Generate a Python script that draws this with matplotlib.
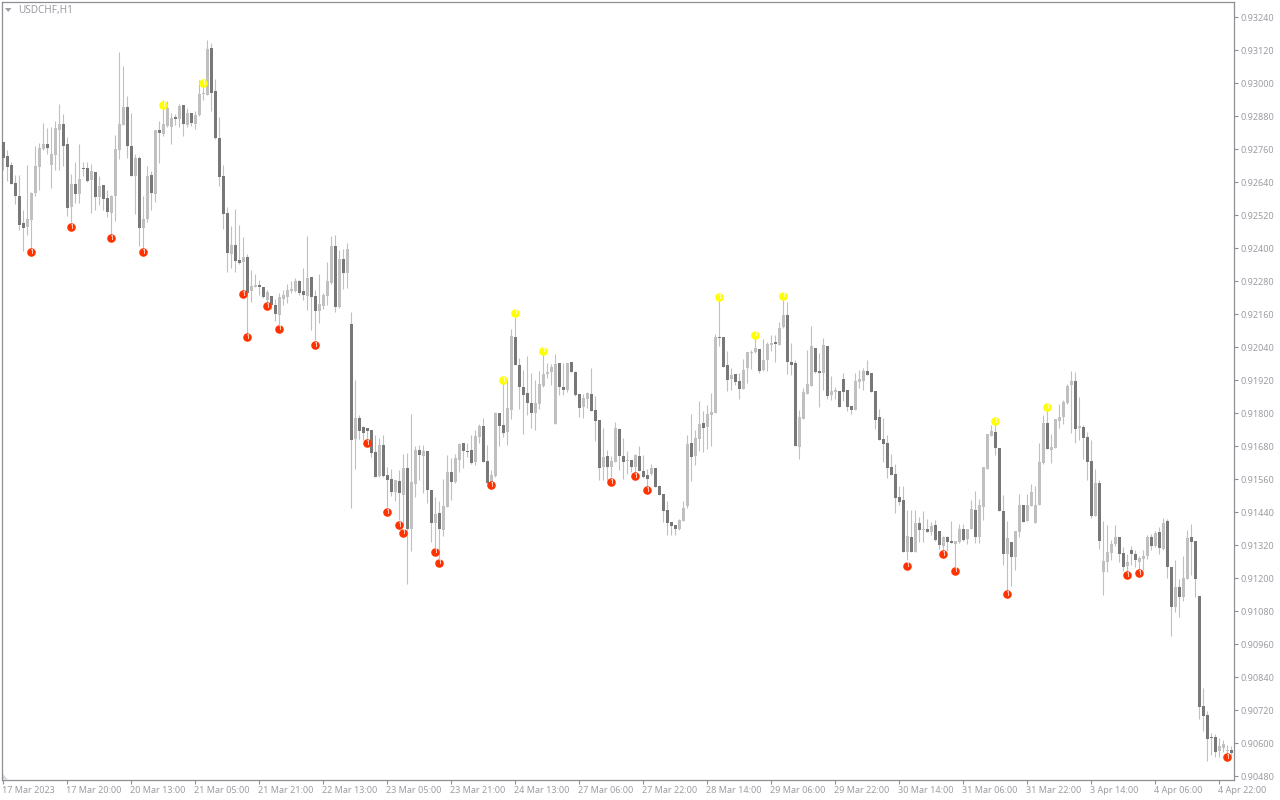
import numpy as np
import matplotlib
matplotlib.use('Agg')
import matplotlib.pyplot as plt
from matplotlib.patches import Polygon
from matplotlib.transforms import ScaledTranslation

# USDCHF H1, values, in 1/100000 of a franc
opens = [92786, 92735, 92702, 92637, 92589, 92491, 92477, 92502, 92600, 92695,
         92760, 92778, 92702, 92738, 92829, 92851, 92778, 92549, 92633, 92597,
         92691, 92691, 92648, 92677, 92586, 92629, 92582, 92528, 92589, 92757,
         92848, 92913, 92771, 92662, 92728, 92473, 92506, 92666, 92597, 92829,
         92815, 92844, 92840, 92877, 92869, 92920, 92848, 92891, 92851, 92884,
         92961, 92957, 93128, 92971, 92800, 92662, 92528, 92379, 92411, 92357,
         92349, 92368, 92244, 92259, 92266, 92259, 92211, 92226, 92193, 92157,
         92215, 92222, 92244, 92244, 92280, 92244, 92226, 92295, 92226, 92171,
         92189, 92226, 92273, 92408, 92186, 92360, 92309, 92124, 91706, 91782,
         91749, 91746, 91738, 91658, 91571, 91684, 91575, 91560, 91513, 91553,
         91502, 91600, 91378, 91542, 91666, 91644, 91662, 91520, 91400, 91437,
         91375, 91458, 91586, 91549, 91629, 91691, 91662, 91666, 91622, 91713,
         91753, 91626, 91546, 91571, 91800, 91756, 91731, 91811, 92076, 91975,
         91895, 91873, 91836, 91800, 91833, 91898, 91942, 91949, 91760, 91982,
         91895, 91884, 91986, 91949, 91869, 91822, 91851, 91869, 91811, 91775,
         91604, 91644, 91604, 91622, 91742, 91644, 91626, 91629, 91604, 91644,
         91589, 91575, 91578, 91600, 91535, 91506, 91447, 91404, 91393, 91378,
         91407, 91462, 91691, 91644, 91706, 91764, 91750, 91793, 91801, 92077,
         92077, 91975, 91924, 91942, 91917, 91888, 91964, 92019, 92022, 92033,
         91957, 91993, 92048, 92059, 92048, 92113, 92157, 91986, 91982, 91677,
         91779, 91870, 91899, 92037, 91953, 91946, 92044, 91866, 91877, 91881,
         91924, 91884, 91826, 91811, 91913, 91917, 91953, 91946, 91881, 91786,
         91706, 91691, 91604, 91578, 91495, 91484, 91295, 91349, 91295, 91400,
         91375, 91378, 91368, 91393, 91371, 91317, 91349, 91335, 91324, 91331,
         91378, 91342, 91378, 91448, 91349, 91459, 91597, 91717, 91731, 91673,
         91444, 91288, 91331, 91277, 91368, 91466, 91408, 91462, 91400, 91466,
         91619, 91764, 91666, 91673, 91771, 91786, 91837, 91902, 91917, 91746,
         91749, 91713, 91626, 91426, 91546, 91222, 91259, 91291, 91324, 91349,
         91291, 91244, 91302, 91288, 91259, 91269, 91280, 91349, 91317, 91368,
         91306, 91408, 91240, 91095, 91168, 91131, 91197, 91349, 91335, 91135,
         90735, 90702, 90622, 90622, 90571, 90582, 90571, 90575]

highs = [92787, 92757, 92714, 92666, 92666, 92539, 92702, 92604, 92771, 92781,
         92855, 92837, 92839, 92862, 92924, 92888, 92803, 92669, 92713, 92778,
         92713, 92713, 92706, 92677, 92662, 92629, 92611, 92593, 92811, 93113,
         93062, 92953, 92891, 92742, 92735, 92589, 92698, 92680, 92829, 92862,
         92938, 92935, 92891, 92888, 92924, 92920, 92909, 92891, 92898, 93011,
         92993, 93157, 93146, 93015, 92877, 92702, 92549, 92480, 92542, 92484,
         92440, 92379, 92320, 92306, 92284, 92259, 92248, 92226, 92215, 92237,
         92248, 92269, 92280, 92291, 92284, 92328, 92444, 92295, 92248, 92306,
         92237, 92349, 92444, 92448, 92393, 92397, 92419, 92167, 91920, 91793,
         91753, 91746, 91738, 91720, 91709, 91720, 91604, 91596, 91556, 91593,
         91651, 91655, 91796, 91680, 91684, 91684, 91662, 91520, 91495, 91480,
         91560, 91647, 91637, 91651, 91691, 91691, 91690, 91720, 91738, 91760,
         91782, 91684, 91593, 91804, 91800, 91920, 91924, 92106, 92150, 92000,
         91956, 92007, 91946, 91920, 91953, 92011, 91982, 91978, 92015, 91982,
         91981, 91982, 91986, 91953, 91869, 91869, 91876, 91964, 91862, 91775,
         91746, 91666, 91644, 91767, 91746, 91709, 91662, 91629, 91651, 91680,
         91647, 91596, 91615, 91600, 91538, 91506, 91480, 91404, 91393, 91415,
         91480, 91720, 91796, 91739, 91844, 91808, 91830, 91873, 92088, 92218,
         92077, 92026, 91964, 91942, 91946, 91997, 92022, 92030, 92072, 92033,
         92070, 92059, 92084, 92084, 92131, 92211, 92204, 92055, 91993, 91811,
         91891, 92030, 92117, 92037, 92019, 92073, 92044, 91935, 91895, 91881,
         91946, 91884, 91826, 91946, 91957, 91964, 91993, 91946, 91881, 91815,
         91782, 91720, 91651, 91615, 91535, 91535, 91448, 91448, 91448, 91421,
         91444, 91414, 91404, 91411, 91371, 91353, 91353, 91408, 91335, 91397,
         91397, 91378, 91484, 91517, 91488, 91604, 91724, 91757, 91757, 91673,
         91502, 91408, 91331, 91371, 91506, 91466, 91506, 91542, 91535, 91691,
         91793, 91811, 91724, 91778, 91833, 91848, 91906, 91953, 91949, 91858,
         91757, 91731, 91702, 91597, 91557, 91408, 91393, 91339, 91393, 91349,
         91313, 91288, 91317, 91302, 91280, 91302, 91357, 91360, 91371, 91386,
         91419, 91415, 91240, 91266, 91197, 91280, 91375, 91397, 91335, 91135,
         90800, 90717, 90637, 90633, 90618, 90611, 90593, 90589]

lows = [92684, 92644, 92633, 92560, 92466, 92391, 92448, 92399, 92589, 92611,
        92757, 92742, 92619, 92684, 92684, 92698, 92517, 92496, 92565, 92565,
        92662, 92640, 92529, 92539, 92557, 92539, 92514, 92448, 92499, 92724,
        92848, 92728, 92662, 92524, 92408, 92393, 92495, 92539, 92568, 92709,
        92808, 92840, 92778, 92848, 92841, 92808, 92840, 92844, 92833, 92880,
        92938, 92957, 92898, 92798, 92626, 92469, 92313, 92328, 92313, 92342,
        92236, 92084, 92204, 92257, 92229, 92219, 92189, 92177, 92135, 92114,
        92193, 92200, 92236, 92240, 92229, 92211, 92175, 92102, 92066, 92128,
        92179, 92193, 92269, 92168, 92182, 92251, 92255, 91455, 91596, 91706,
        91702, 91691, 91640, 91567, 91567, 91567, 91460, 91498, 91480, 91411,
        91393, 91178, 91298, 91496, 91556, 91509, 91473, 91331, 91308, 91266,
        91353, 91458, 91484, 91547, 91586, 91600, 91639, 91615, 91611, 91690,
        91622, 91542, 91542, 91569, 91680, 91713, 91684, 91778, 91975, 91815,
        91724, 91793, 91746, 91738, 91815, 91895, 91927, 91902, 91760, 91866,
        91866, 91876, 91949, 91862, 91786, 91782, 91818, 91807, 91698, 91556,
        91556, 91556, 91569, 91622, 91593, 91560, 91578, 91586, 91581, 91589,
        91565, 91532, 91575, 91531, 91502, 91404, 91357, 91357, 91357, 91375,
        91407, 91455, 91553, 91611, 91662, 91659, 91670, 91681, 91801, 92044,
        91968, 91881, 91884, 91902, 91851, 91888, 91910, 91961, 92019, 91946,
        91953, 91953, 92026, 91986, 92048, 92110, 91942, 91939, 91681, 91633,
        91779, 91870, 91899, 91946, 91822, 91884, 91851, 91848, 91851, 91822,
        91844, 91808, 91797, 91811, 91891, 91884, 91939, 91877, 91742, 91702,
        91623, 91564, 91575, 91437, 91466, 91295, 91266, 91295, 91295, 91331,
        91331, 91368, 91357, 91335, 91306, 91299, 91299, 91328, 91235, 91328,
        91335, 91324, 91378, 91328, 91328, 91411, 91597, 91717, 91648, 91444,
        91248, 91151, 91171, 91229, 91349, 91404, 91408, 91462, 91400, 91466,
        91615, 91669, 91619, 91673, 91746, 91760, 91833, 91729, 91691, 91702,
        91633, 91557, 91419, 91426, 91306, 91139, 91222, 91266, 91317, 91259,
        91226, 91223, 91248, 91240, 91232, 91229, 91269, 91302, 91313, 91288,
        91302, 91200, 90989, 91077, 91059, 91117, 91197, 91211, 91131, 90688,
        90644, 90535, 90557, 90549, 90549, 90568, 90539, 90557]

closes = [92728, 92695, 92633, 92589, 92484, 92473, 92506, 92600, 92698, 92764,
          92778, 92764, 92742, 92837, 92851, 92771, 92546, 92633, 92597, 92651,
          92689, 92644, 92680, 92586, 92626, 92578, 92531, 92589, 92760, 92851,
          92913, 92771, 92662, 92728, 92473, 92506, 92662, 92600, 92829, 92818,
          92851, 92909, 92873, 92869, 92917, 92851, 92891, 92855, 92884, 92960,
          92964, 93124, 92964, 92800, 92658, 92524, 92382, 92411, 92353, 92346,
          92368, 92237, 92262, 92266, 92259, 92222, 92240, 92193, 92160, 92222,
          92229, 92248, 92251, 92280, 92237, 92229, 92291, 92222, 92171, 92197,
          92229, 92280, 92408, 92186, 92360, 92309, 92397, 91702, 91782, 91735,
          91727, 91735, 91655, 91567, 91684, 91571, 91556, 91513, 91556, 91509,
          91600, 91378, 91549, 91666, 91647, 91662, 91520, 91400, 91433, 91378,
          91462, 91586, 91549, 91637, 91687, 91662, 91658, 91618, 91717, 91753,
          91622, 91546, 91575, 91800, 91753, 91727, 91818, 92080, 91975, 91895,
          91866, 91836, 91800, 91836, 91906, 91942, 91949, 91967, 91978, 91895,
          91884, 91982, 91949, 91866, 91818, 91855, 91873, 91807, 91771, 91600,
          91640, 91604, 91626, 91746, 91644, 91622, 91629, 91604, 91647, 91589,
          91567, 91560, 91600, 91531, 91502, 91444, 91400, 91389, 91378, 91411,
          91455, 91687, 91640, 91710, 91761, 91746, 91797, 91804, 92077, 92074,
          91968, 91921, 91939, 91913, 91888, 91957, 92022, 92022, 92037, 91953,
          91993, 92051, 92055, 92051, 92110, 92157, 91986, 91975, 91681, 91786,
          91877, 91906, 92044, 91950, 91946, 92048, 91862, 91881, 91884, 91822,
          91877, 91822, 91811, 91917, 91924, 91953, 91939, 91877, 91775, 91702,
          91688, 91600, 91575, 91491, 91477, 91295, 91353, 91295, 91400, 91375,
          91378, 91368, 91389, 91339, 91320, 91349, 91331, 91328, 91335, 91378,
          91339, 91378, 91451, 91349, 91466, 91604, 91724, 91735, 91673, 91444,
          91288, 91346, 91277, 91371, 91466, 91404, 91466, 91513, 91466, 91622,
          91764, 91669, 91677, 91778, 91786, 91840, 91898, 91917, 91742, 91753,
          91709, 91622, 91426, 91546, 91335, 91262, 91295, 91324, 91349, 91288,
          91240, 91259, 91288, 91266, 91273, 91280, 91349, 91317, 91364, 91309,
          91400, 91240, 91095, 91168, 91131, 91200, 91346, 91331, 91197, 90731,
          90698, 90615, 90620, 90568, 90589, 90597, 90575, 90564]

# signal arrows: bar number and price
red_bars = [7, 17, 27, 35, 60, 61, 66, 69, 78, 91, 96, 99, 100, 108, 109, 122, 152,
            158, 161, 226, 235, 238, 251, 281, 284, 306]
red_prices = [92385, 92476, 92436, 92385, 92233, 92076, 92189, 92106, 92047, 91691,
              91440, 91393, 91364, 91295, 91255, 91538, 91549, 91571, 91520, 91244,
              91287, 91226, 91142, 91211, 91218, 90549]
yellow_bars = [40, 50, 125, 128, 135, 179, 188, 195, 248, 261]
yellow_prices = [92920, 93000, 91920, 92164, 92026, 92222, 92084, 92226, 91771, 91822]

y_ticks = [90480, 90600, 90720, 90840, 90960, 91080, 91200, 91320, 91440, 91560, 91680, 91800,
           91920, 92040, 92160, 92280, 92400, 92520, 92640, 92760, 92880, 93000, 93120, 93240]
x_labels = ['17 Mar 2023', '17 Mar 20:00', '20 Mar 13:00', '21 Mar 05:00', '21 Mar 21:00',
            '22 Mar 13:00', '23 Mar 05:00', '23 Mar 21:00', '24 Mar 13:00', '27 Mar 06:00',
            '27 Mar 22:00', '28 Mar 14:00', '29 Mar 06:00', '29 Mar 22:00', '30 Mar 14:00',
            '31 Mar 06:00', '31 Mar 22:00', '3 Apr 14:00', '4 Apr 06:00', '4 Apr 22:00']

plt.rcParams['font.family'] = ['Noto Sans', 'DejaVu Sans']

LIGHT = '#c0c0c0'
DARK = '#787878'
AXIS = '#8e8e94'
TEXT = '#9c9ca4'

o = np.array(opens) / 1e5
h = np.array(highs) / 1e5
l = np.array(lows) / 1e5
c = np.array(closes) / 1e5
bars = np.arange(len(o))

fig = plt.figure(figsize=(12.8, 8), dpi=100)
ax = fig.add_axes([2 / 1280, 1 - 779.5 / 800, 1232 / 1280, 777.5 / 800])

# wicks first, then bodies on top
ax.vlines(bars, l, h, color=LIGHT, linewidth=0.8, zorder=2)
body_top = np.maximum(o, c)
body_bot = np.minimum(o, c)
colors = [DARK if c[i] < o[i] else LIGHT for i in bars]
ax.bar(bars, body_top - body_bot, bottom=body_bot, width=0.78, color=colors, linewidth=0, zorder=3)

ax.scatter(red_bars, np.array(red_prices) / 1e5, s=38, color='#ff3300', linewidth=0, zorder=4)
for b, p in zip(red_bars, red_prices):
    ax.text(b, p / 1e5, '1', color='white', fontsize=5.5, fontweight='bold', ha='center', va='center', zorder=5)
ax.scatter(yellow_bars, np.array(yellow_prices) / 1e5, s=38, color='#ffff00', linewidth=0, zorder=4)
for b, p in zip(yellow_bars, yellow_prices):
    ax.text(b, p / 1e5, '1', color='white', fontsize=5.5, fontweight='bold', ha='center', va='center', zorder=5)

ax.set_xlim((2 - 3.17) / 4, (1234 - 3.17) / 4)
ax.set_ylim(90467.5 / 1e5, 93295 / 1e5)

ax.yaxis.tick_right()
ax.set_yticks(np.array(y_ticks) / 1e5)
ax.set_yticklabels(['%.5f' % (v / 1e5) for v in y_ticks])
ax.set_xticks(bars[::16])
ax.set_xticklabels(x_labels, ha='left')
ax.tick_params(axis='both', length=3, width=0.8, color=AXIS, labelcolor=TEXT, labelsize=6.5)
ax.tick_params(axis='x', pad=1.5)
ax.tick_params(axis='y', pad=2)

# date labels start a touch left of their tick
for lab in ax.get_xticklabels():
    lab.set_transform(lab.get_transform() + ScaledTranslation(-1.5 / 100, 0, fig.dpi_scale_trans))

for side in ax.spines:
    ax.spines[side].set_color(AXIS)
    ax.spines[side].set_linewidth(0.9)

# symbol caption and the little chart-shift triangle in the corner
ax.text(16 / 1232, 1 - 8 / 777, 'USDCHF,H1', transform=ax.transAxes, color=TEXT, fontsize=7.2,
        ha='left', va='center')
ax.add_patch(Polygon([[3 / 1232, 1 - 6 / 777], [9.5 / 1232, 1 - 6 / 777], [6.2 / 1232, 1 - 10 / 777]],
                     transform=ax.transAxes, color='#a0a0a6', linewidth=0))
ax.add_patch(Polygon([[0.5 / 1232, 0], [0.5 / 1232, 6 / 777], [6 / 1232, 0]],
                     transform=ax.transAxes, color='#d8d8dc', linewidth=0))

fig.savefig('out.png', dpi=100, facecolor='white')
